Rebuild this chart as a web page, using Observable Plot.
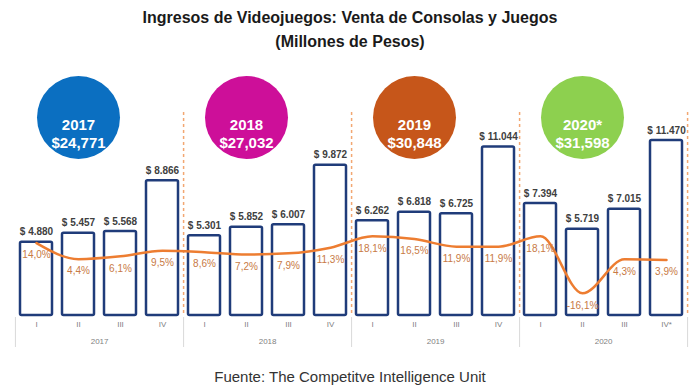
<!DOCTYPE html>
<html><head><meta charset="utf-8">
<script src="https://cdn.jsdelivr.net/npm/d3@7"></script>
<script src="https://cdn.jsdelivr.net/npm/@observablehq/plot@0.6"></script>
<style>
body{margin:0;background:#fff;width:700px;overflow:hidden}
.t{font:bold 16px "Liberation Sans",Arial,sans-serif;color:#1a1a1a;text-align:center;line-height:24px;padding-top:6px;height:48px}
.c{font:15px "Liberation Sans",Arial,sans-serif;color:#333;text-align:center;line-height:22px}
svg{display:block}
</style></head>
<body>
<div class="t">Ingresos de Videojuegos: Venta de Consolas y Juegos<br>(Millones de Pesos)</div>
<div id="chart"></div>
<div class="c">Fuente: The Competitve Intelligence Unit</div>
<script>
const years = ["2017","2018","2019","2020"];
const yearLabels = ["2017","2018","2019","2020*"];
const yearTotals = [24771, 27032, 30848, 31598];
const yearColors = ["#0b6fc1","#cd0f99","#c6561a","#8dd04f"];
const quarterLabels = ["I","II","III","IV","I","II","III","IV","I","II","III","IV","I","II","III","IV*"];
const barYears = ["2017","2017","2017","2017","2018","2018","2018","2018","2019","2019","2019","2019","2020","2020","2020","2020"];
const revenue = [4880,5457,5568,8866,5301,5852,6007,9872,6262,6818,6725,11044,7394,5719,7015,11470];
const growth = [14.0,4.4,6.1,9.5,8.6,7.2,7.9,11.3,18.1,16.5,11.9,11.9,18.1,-16.1,4.3,3.9];

const yMax = 13220;               // primary axis (millones de pesos)
const growthDomain = [-30, 92.4]; // secondary axis (%) drawn on the same frame
const growthY = d3.scaleLinear(growthDomain, [0, yMax]);

const locale = d3.formatLocale({decimal: ",", thousands: ".", grouping: [3], currency: ["$", ""], minus: "-"});
const fmtMoney = locale.format(",d");
const fmtPct = locale.format(".1f");
const fmtTotal = d3.format(",d");

const data = revenue.map((v, i) => ({
  key: barYears[i] + " " + quarterLabels[i],
  year: barYears[i], q: quarterLabels[i], revenue: v, growth: growth[i]
}));
const keys = data.map(d => d.key);
const circles = years.map((y, i) => ({key: y + " II", year: y, label: yearLabels[i], total: yearTotals[i]}));
const groupEnds = data.filter(d => d.q.startsWith("IV"));
const groupMids = years.map(y => ({key: y + " II", year: y}));

const mL = 13, mR = 12, pIn = 0.2, pOut = 0.1;
const step = (700 - mL - mR) / (keys.length - pIn + 2 * pOut);

const chart = Plot.plot({
  width: 700, height: 312,
  marginTop: 58, marginBottom: 50, marginLeft: mL, marginRight: mR,
  x: {type: "band", domain: keys, paddingInner: pIn, paddingOuter: pOut, axis: null},
  y: {domain: [0, yMax], axis: null},
  color: {domain: years, range: yearColors},
  style: {fontFamily: "'Liberation Sans', Arial, sans-serif", background: "white", overflow: "visible"},
  marks: [
    Plot.ruleX(groupEnds, {x: "key", dx: step / 2, stroke: "#f2a772", strokeWidth: 1.5, strokeDasharray: "3,3"}),
    Plot.ruleX(groupEnds, {x: "key", dx: step / 2, stroke: "#d9d9d9", strokeWidth: 1, insetTop: 205, insetBottom: -31}),
    Plot.ruleX([keys[0]], {x: d => d, dx: -step / 2, stroke: "#d9d9d9", strokeWidth: 1, insetTop: 205, insetBottom: -31}),
    Plot.barY(data, {x: "key", y: "revenue", fill: "white", stroke: "#203c7a", strokeWidth: 2.5, inset: 1, rx: 1.5}),
    Plot.line(data, {x: "key", y: d => growthY(d.growth), stroke: "#ed7d31", strokeWidth: 2.5, curve: "monotone-x"}),
    Plot.text(data, {x: "key", y: d => growthY(d.growth), dy: 12, text: d => fmtPct(d.growth) + "%", fill: "#c87a45", fontSize: 10}),
    Plot.text(data, {x: "key", y: "revenue", dy: -9, text: d => "$ " + fmtMoney(d.revenue), fill: "#404040", fontSize: 10, fontWeight: "bold"}),
    Plot.text(data, {x: "key", frameAnchor: "bottom", dy: 10, text: "q", fill: "#7f7f7f", fontSize: 8}),
    Plot.text(groupMids, {x: "key", dx: step / 2, frameAnchor: "bottom", dy: 27, text: "year", fill: "#7f7f7f", fontSize: 8}),
    Plot.dot(circles, {x: "key", frameAnchor: "top", dy: 5, r: 41.5, fill: "year", stroke: null}),
    Plot.text(circles, {x: "key", frameAnchor: "top", dy: 5, text: d => d.label + "\n$" + fmtTotal(d.total), lineHeight: 1.2, fill: "white", fontSize: 15, fontWeight: "bold"})
  ]
});
document.getElementById("chart").appendChild(chart);
</script>
</body></html>
